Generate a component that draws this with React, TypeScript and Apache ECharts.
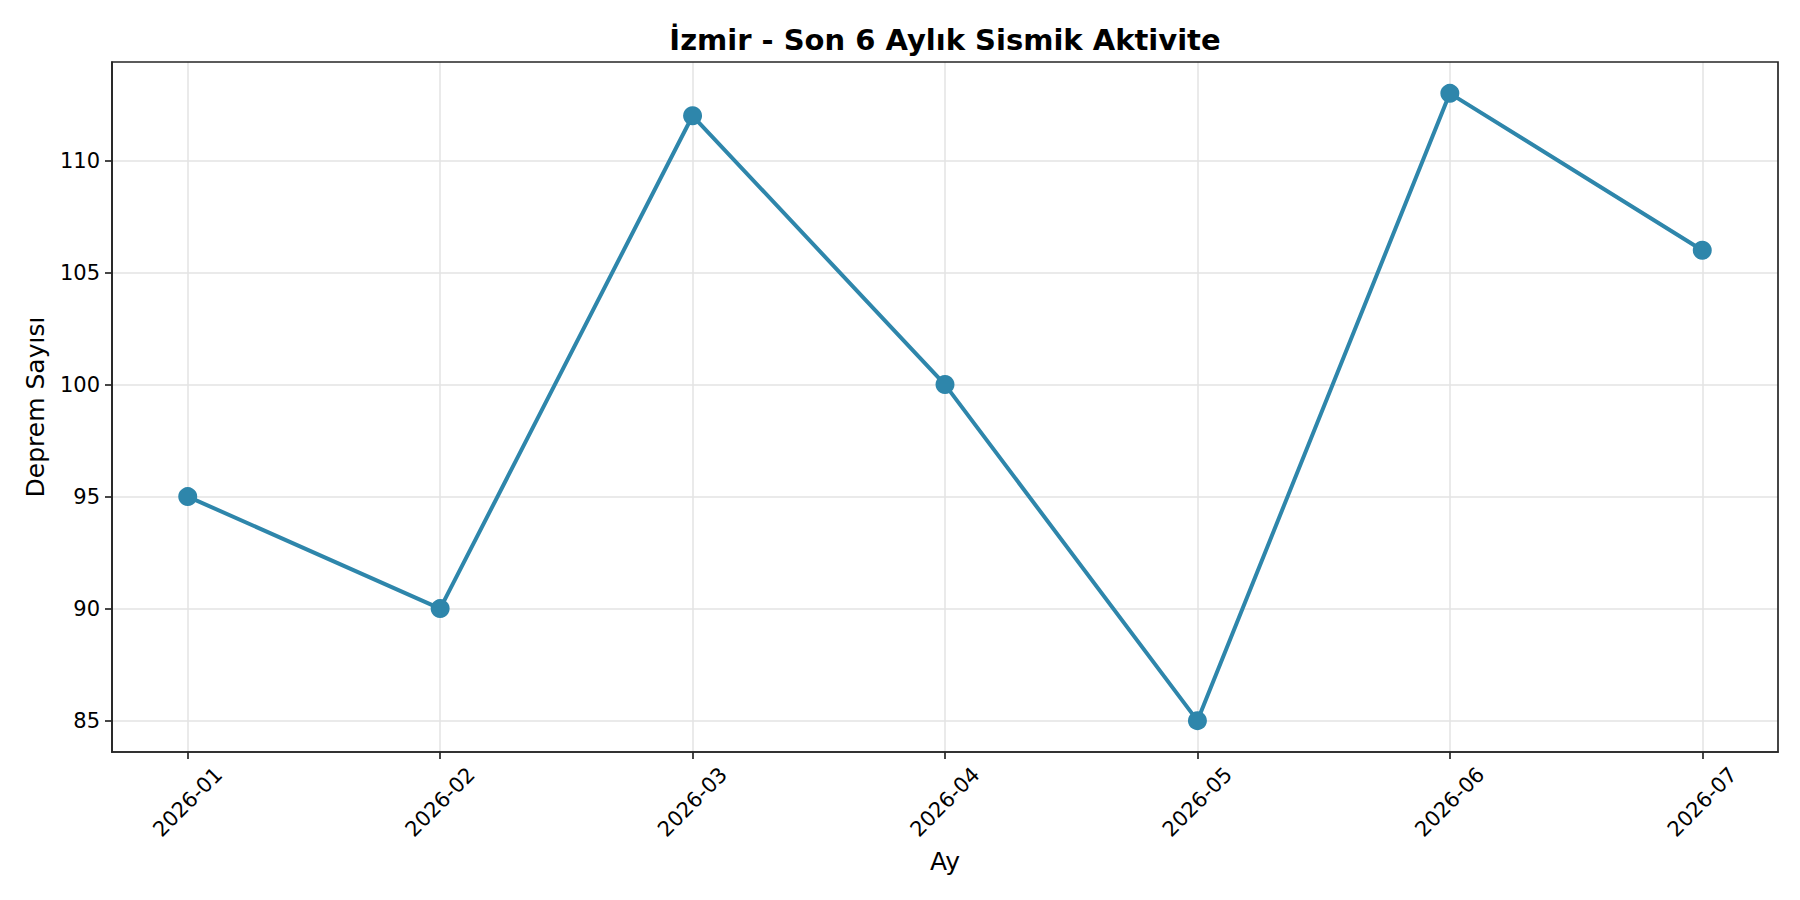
import React, { useRef, useEffect } from 'react';
import * as echarts from 'echarts';

const months = ['2026-01', '2026-02', '2026-03', '2026-04', '2026-05', '2026-06', '2026-07'];
const quakeCounts = [95, 90, 112, 100, 85, 113, 106];
const yTicks = [85, 90, 95, 100, 105, 110];

const FONT = 'DejaVu Sans';
const LINE = '#2E86AB';
const SPINE = '#262626';

const App: React.FC = () => {
  const chartRef = useRef<HTMLDivElement>(null);

  useEffect(() => {
    if (!chartRef.current) return;
    const chart = echarts.init(chartRef.current, undefined, { renderer: 'svg' });

    const xIdx = months.map((_, i) => i);
    const grid = { left: 112, right: 22, top: 62, bottom: 148 };
    const cx = grid.left + (1800 - grid.left - grid.right) / 2;

    const option = {
      animation: false,
      backgroundColor: '#fff',
      textStyle: { fontFamily: FONT },
      grid,
      graphic: [
        {
          type: 'text', x: cx, y: 40, style: {
            text: 'İzmir - Son 6 Aylık Sismik Aktivite', fontFamily: FONT, fontSize: 29,
            fontWeight: 'bold', fill: '#000', textAlign: 'center', textVerticalAlign: 'middle',
          },
        },
        {
          type: 'text', x: 35, y: 407, rotation: Math.PI / 2, style: {
            text: 'Deprem Sayısı', fontFamily: FONT, fontSize: 25, fill: '#000',
            textAlign: 'center', textVerticalAlign: 'middle',
          },
        },
        {
          type: 'text', x: cx, y: 861, style: {
            text: 'Ay', fontFamily: FONT, fontSize: 25, fill: '#000',
            textAlign: 'center', textVerticalAlign: 'middle',
          },
        },
        {
          // matplotlib-style box round the axes
          type: 'rect', silent: true, z: 10,
          shape: { x: grid.left, y: grid.top, width: 1800 - grid.left - grid.right, height: 900 - grid.top - grid.bottom },
          style: { fill: 'none', stroke: SPINE, lineWidth: 1.7 },
        },
      ],
      xAxis: {
        type: 'value',
        min: -0.3,
        max: 6.3,
        axisLine: { show: true, onZero: false, lineStyle: { color: SPINE, width: 1.7 } },
        axisTick: { show: true, length: 7, customValues: xIdx, lineStyle: { color: SPINE, width: 1.7 } },
        axisLabel: {
          customValues: xIdx,
          formatter: (v: number) => months[Math.round(v)] ?? '',
          rotate: 45, align: 'center', verticalAlign: 'middle', margin: 50,
          fontFamily: FONT, fontSize: 21, color: '#000',
        },
        splitLine: { show: true, lineStyle: { color: '#e3e3e3', width: 1.5 } },
      },
      yAxis: {
        type: 'value',
        min: 83.6,
        max: 114.4,
        axisLine: { show: true, onZero: false, lineStyle: { color: SPINE, width: 1.7 } },
        axisTick: { show: true, length: 7, customValues: yTicks, lineStyle: { color: SPINE, width: 1.7 } },
        axisLabel: { customValues: yTicks, margin: 12, fontFamily: FONT, fontSize: 21, color: '#000' },
        splitLine: { show: true, lineStyle: { color: '#e3e3e3', width: 1.5 } },
      },
      series: [
        {
          type: 'line',
          data: quakeCounts.map((v, i) => [i, v]),
          lineStyle: { color: LINE, width: 4 },
          itemStyle: { color: LINE },
          symbol: 'circle',
          symbolSize: 19,
          z: 3,
        },
      ],
    };
    chart.setOption(option);

    return () => chart.dispose();
  }, []);

  return (
    <div ref={chartRef} style={{ position: 'fixed', left: 0, top: 0, width: 1800, height: 900 }} />
  );
};

export default App;
